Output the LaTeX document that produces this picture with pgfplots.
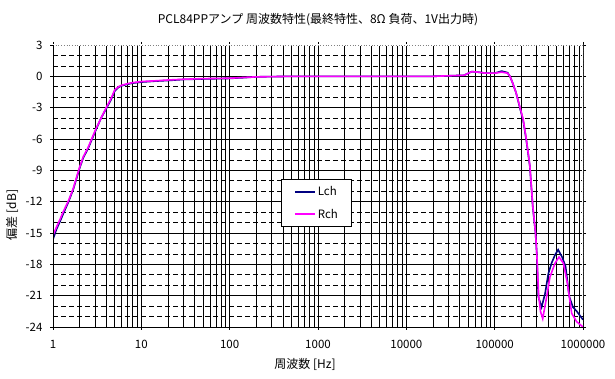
\documentclass[border=0pt]{standalone}
\usepackage{fontspec}
\setmainfont{Noto Sans CJK JP}
\usepackage{pgfplots}
\pgfplotsset{compat=1.18}
\definecolor{lch}{RGB}{0,0,128}
\definecolor{rch}{RGB}{255,0,255}
\begin{document}
\begin{tikzpicture}
\path[use as bounding box, fill=white] (0,0) rectangle (615pt,379pt);
\begin{axis}[
  at={(53pt,52pt)}, anchor=south west,
  scale only axis, width=530pt, height=282pt,
  xmode=log, xmin=1, xmax=1000000, ymin=-24, ymax=3,
  xtick={1,10,100,1000,10000,100000,1000000},
  xticklabels={1,10,100,1000,10000,100000,1000000},
  ytick={-24,-21,...,3},
  grid=both,
  major grid style={black, line width=0.7pt},
  minor grid style={black, line width=0.7pt},
  axis line style={draw=none},
  tick align=outside, major tick length=3pt, minor tick length=0pt,
  tick style={black, line width=0.7pt},
  /pgf/number format/assume math mode=true,
  ticklabel style={font=\fontsize{11.5}{13}\selectfont},
  xticklabel style={yshift=-7pt},
  yticklabel style={xshift=-4pt},
  extra y ticks={-23,-22,-20,-19,-17,-16,-14,-13,-11,-10,-8,-7,-5,-4,-2,-1,1,2},
  extra y tick labels={},
  extra y tick style={grid=major, major tick length=0pt,
    major grid style={black, line width=0.7pt, dash pattern=on 5pt off 3pt}},
  legend style={at={(0.431,0.354)}, anchor=south west, draw=black, line width=0.8pt, fill=white,
    font=\fontsize{11.5}{13}\selectfont, inner xsep=12pt, inner ysep=5pt, row sep=8pt},
  legend cell align=left,
  legend image code/.code={\draw[#1, line width=2pt] (0pt,0pt) -- (20pt,0pt);},
]
\addplot[lch, line width=1.6pt] coordinates {
(1,-15.6) (1.1,-14.6) (1.2,-13.9) (1.3,-13.2) (1.5,-12.0) (1.7,-10.8) (2,-8.8) (2.2,-7.8)
(2.5,-6.9) (3,-5.3) (3.5,-4.0) (4,-3.1) (4.5,-2.3) (5,-1.4) (5.5,-1.05) (6,-0.9) (7,-0.75)
(8,-0.65) (10,-0.55) (15,-0.45) (20,-0.4) (30,-0.3) (50,-0.25) (100,-0.2) (150,-0.12)
(200,-0.05) (500,0) (1000,0) (10000,0) (20000,0) (30000,0.05) (45000,0.1) (55000,0.45)
(65000,0.4) (80000,0.3) (100000,0.3) (120000,0.5) (140000,0.35) (149000,0) (160000,-0.65)
(175000,-1.6) (194000,-3.1) (210000,-4.2) (228000,-6.1) (250000,-8.6) (270000,-12.5)
(290000,-15.0) (300000,-17.0) (312000,-21.1) (340000,-22.1) (372000,-20.8) (405000,-18.9)
(440000,-17.9) (482000,-17.1) (523000,-16.6) (580000,-17.3) (635000,-18.2) (700000,-21.1)
(770000,-22.1) (850000,-22.5) (1000000,-23.3)
};
\addlegendentry{Lch}
\addplot[rch, line width=1.6pt] coordinates {
(1,-15.2) (1.1,-14.4) (1.2,-13.7) (1.3,-13.0) (1.5,-11.9) (1.7,-10.7) (2,-8.7) (2.2,-7.7)
(2.5,-6.8) (3,-5.2) (3.5,-4.0) (4,-3.0) (4.5,-2.2) (5,-1.3) (5.5,-1.0) (6,-0.85) (7,-0.7)
(8,-0.6) (10,-0.5) (15,-0.42) (20,-0.35) (30,-0.28) (50,-0.22) (100,-0.18) (150,-0.1)
(200,-0.05) (500,0) (1000,0) (10000,0) (20000,0) (30000,0.05) (45000,0.1) (55000,0.45)
(65000,0.4) (80000,0.3) (100000,0.3) (120000,0.4) (140000,0.3) (149000,0) (160000,-0.65)
(175000,-1.6) (194000,-3.0) (210000,-4.1) (228000,-6.0) (250000,-8.5) (270000,-12.4)
(290000,-15.0) (300000,-17.0) (315000,-21.0) (330000,-22.5) (350000,-23.2) (388000,-21.1)
(423000,-19.2) (482000,-17.9) (535000,-17.3) (600000,-17.9) (665000,-19.8) (745000,-22.7)
(849000,-23.5) (1000000,-24)
};
\addlegendentry{Rch}
\draw[white, line width=1.4pt] (rel axis cs:0,1) -- (rel axis cs:1,1) -- (rel axis cs:1,0.05);
\draw[gray, line width=0.7pt, dotted] (rel axis cs:0,1) -- (rel axis cs:1,1) -- (rel axis cs:1,0);
\draw[black, line width=0.7pt] (rel axis cs:0,1) -- (rel axis cs:0,0) -- (rel axis cs:1,0);
\end{axis}
\node[font=\fontsize{12}{14}\selectfont] at (318pt,359pt) {PCL84PPアンプ 周波数特性(最終特性、8Ω 負荷、1V出力時)};
\node[font=\fontsize{12}{14}\selectfont, rotate=90] at (12pt,164pt) {偏差 [dB]};
\node[font=\fontsize{12}{14}\selectfont] at (305pt,15pt) {周波数 [Hz]};
\end{tikzpicture}
\end{document}
